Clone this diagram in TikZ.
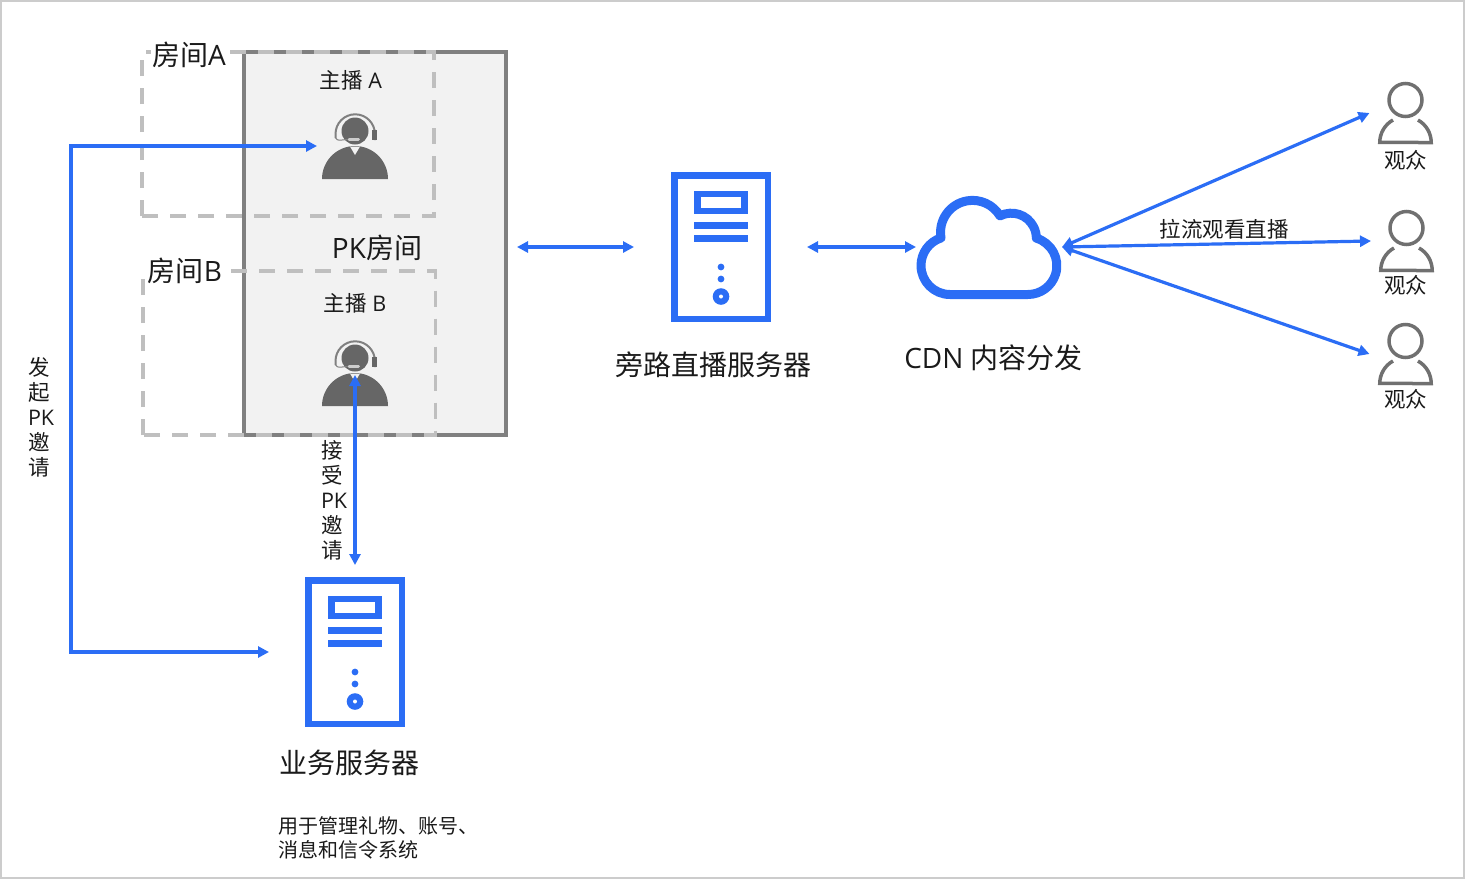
\documentclass[tikz,border=0pt]{standalone}
\usepackage{fontspec}
\setmainfont{Noto Sans CJK SC}
\newfontfamily\latinfont{Open Sans}
\usetikzlibrary{arrows.meta,calc}
\definecolor{liveblue}{HTML}{2B6DF5}
\definecolor{roomgray}{HTML}{808080}
\definecolor{roomfill}{HTML}{F2F2F2}
\definecolor{dashgray}{HTML}{BFBFBF}
\definecolor{icongray}{HTML}{666666}
\definecolor{viewgray}{HTML}{707070}
\definecolor{inkblack}{HTML}{1A1A1A}
\tikzset{
  servericon/.pic={
    \draw[liveblue,line width=6.5pt] (-46.75,-71.75) rectangle (46.75,71.75);
    \draw[liveblue,line width=6.5pt] (-23.7,-53) rectangle (23.7,-36);
    \fill[liveblue] (-27,-25) rectangle (27,-18.5);
    \fill[liveblue] (-27,-12) rectangle (27,-5.5);
    \fill[liveblue] (0,20) circle (3.4pt);
    \fill[liveblue] (0,32) circle (3.4pt);
    \fill[liveblue] (0,49.5) circle (8.3pt);
    \fill[white] (0,49.5) circle (2pt);
  },
  anchoricon/.pic={
    \begin{scope}[y=1pt]
      \fill[icongray] (-33,-33) arc (180:0:33pt) -- cycle;
      \fill[roomfill] (-5,-0.5) -- (0,-9) -- (5,-0.5) -- cycle;
      \fill[icongray] (0,15) circle (13.5pt);
      \draw[roomgray,line width=2pt] (-19.5,8) -- (-19.5,12) arc (180:0:19.7pt) -- (19.9,6);
      \fill[icongray] (17,16) rectangle (21.8,6);
      \draw[roomgray,line width=1pt] (-19.5,8) to[out=-60,in=180] (-8,6.5);
      \draw[black!20,line width=3pt,line cap=round] (-6,7) -- (3.5,7);
    \end{scope}
  },
  viewericon/.pic={
    \begin{scope}[y=1pt]
      \draw[viewgray,line width=3.5pt] (0,0) circle (16.5pt);
      \draw[viewgray,line width=3.5pt,line join=miter]
        (-12.5,-20) arc (119:180:25.7pt) -- (25.7,-42.5) arc (0:61:25.7pt);
    \end{scope}
  },
}

\begin{document}
\begin{tikzpicture}[
  x=1pt,y=-1pt,
  every node/.style={inner sep=0pt,outer sep=0pt,text=inkblack},
  frame/.style={draw=black!20,line width=2pt},
  pkroom/.style={rectangle,draw=roomgray,fill=roomfill,line width=3.7pt,minimum width=262pt,minimum height=383pt},
  hostroom/.style={draw=dashgray,line width=3.5pt,dash pattern=on 16pt off 12pt},
  roomname/.style={font=\fontsize{28}{30}\selectfont,fill=white,inner sep=1pt},
  bigtext/.style={font=\fontsize{28}{30}\selectfont},
  midtext/.style={font=\fontsize{21.5}{25}\selectfont,align=left},
  smalltext/.style={font=\fontsize{20}{24}\selectfont,align=left},
  iconbox/.style={rectangle,minimum width=#1,minimum height=#1},
  serverbox/.style={rectangle,minimum width=100pt,minimum height=150pt},
  cloudbox/.style={rectangle,minimum width=146pt,minimum height=104pt},
  arrow/.style={<->,>={Triangle[length=11pt,width=11pt]},line width=3.2pt,draw=liveblue},
]
\useasboundingbox (0,0) rectangle (1465,879);
\draw[frame] (1,1) rectangle (1464,878);

% PK room and the two dashed rooms
\node[pkroom] (pk) at (375,243.5) {};
\draw[hostroom] (142,216) rectangle (434,52);
\draw[hostroom] (143,435) rectangle (435.5,271);
\node[roomname] (roomA) at (189,54.5) {房间{\latinfont A}};
\node[roomname] (roomB) at (185,270.5) {房间{\latinfont B}};
\node[bigtext] (pklabel) at (377,247.5) {{\latinfont PK}房间};

% hosts
\node[midtext] (hostAlabel) at (351,80.5) {主播{\latinfont\ A}};
\node[iconbox=66pt] (hostA) at (355,146) {};
\pic at (hostA) {anchoricon};
\node[midtext] (hostBlabel) at (355,303.5) {主播{\latinfont\ B}};
\node[iconbox=66pt] (hostB) at (355,373) {};
\pic at (hostB) {anchoricon};

% servers
\node[serverbox] (live) at (721,247) {};
\pic at (live) {servericon};
\node[bigtext] (livelabel) at (713,365) {旁路直播服务器};
\node[serverbox] (biz) at (355,652) {};
\pic at (biz) {servericon};
\node[bigtext] (bizlabel) at (349,763) {业务服务器};
\node[smalltext,anchor=north west] (bizdesc) at (278,817) {用于管理礼物、账号、\\消息和信令系统};

% CDN cloud
\node[cloudbox] (cdn) at (989,247) {};
\begin{scope}[shift={(988,247)},y=1pt]
  \draw[liveblue,line width=9pt,line join=round] (-38,-47.5) arc (270:108:29pt) arc (190:31:32pt)
    arc (117:0:25pt) arc (73:-90:29pt and 28.8pt) -- cycle;
\end{scope}
\node[bigtext] (cdnlabel) at (993.5,358) {{\latinfont CDN\ }内容分发};

% viewers
\node[iconbox=56pt] (viewerA) at (1405.5,100) {};
\pic at (viewerA) {viewericon};
\node[midtext] (viewerAlabel) at (1405.5,160) {观众};
\node[iconbox=56pt] (viewerB) at (1406.5,228) {};
\pic at (viewerB) {viewericon};
\node[midtext] (viewerBlabel) at (1405.5,285) {观众};
\node[iconbox=56pt] (viewerC) at (1405.5,341) {};
\pic at (viewerC) {viewericon};
\node[midtext] (viewerClabel) at (1405.5,399) {观众};
\coordinate (tipA) at (1369.5,113);
\coordinate (tipB) at (1371,241);
\coordinate (tipC) at (1369.5,354);

% connectors
\draw[arrow,shorten <=5pt,shorten >=36pt] (hostA.west) -- ++(-251,0) |- (biz.west);
\draw[arrow,shorten <=2pt,shorten >=12pt] (hostB.center) -- (biz.north);
\draw[arrow,shorten <=11pt,shorten >=37pt] (live.west -| pk.east) -- (live.west);
\draw[arrow,shorten <=36pt] (live.east) -- (cdn.west);
\draw[arrow] (cdn.east) -- (tipA);
\draw[arrow] (cdn.east) -- (tipB);
\draw[arrow] (cdn.east) -- (tipC);

\node[midtext] (pull) at (1224,229) {拉流观看直播};
\node[midtext,anchor=north west] (invite) at (28,357) {发\\起\\{\latinfont PK}\\邀\\请};
\node[midtext,anchor=north west] (accept) at (321,440) {接\\受\\{\latinfont PK}\\邀\\请};
\end{tikzpicture}
\end{document}
